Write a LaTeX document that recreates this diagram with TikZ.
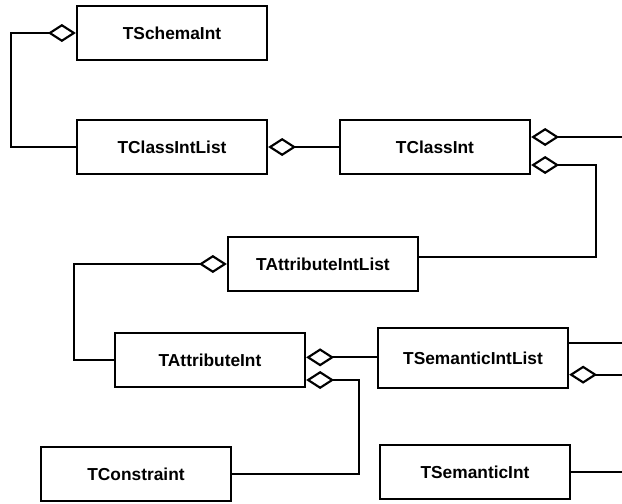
\documentclass[tikz,border=0pt]{standalone}
\usepackage{fontspec}
\setmainfont{Liberation Sans}
\usetikzlibrary{arrows.meta}

\begin{document}
\begin{tikzpicture}[x=0.75pt, y=-0.75pt,
    classbox/.style={draw, line width=1.7pt, minimum width=142.5pt, minimum height=41pt,
      font=\fontsize{13}{15}\selectfont\bfseries},
    link/.style={line width=1.6pt},
    agg/.style={link, -{Diamond[open, length=21pt, width=13.5pt]}},
    aggstart/.style={link, {Diamond[open, length=21pt, width=13.5pt]}-}]
    \useasboundingbox (0,0) rectangle (622,504);
    % classes
    \node[classbox] (schema) at (172,33) {TSchemaInt};
    \node[classbox] (clist) at (172,147) {TClassIntList};
    \node[classbox] (cls) at (435,147) {TClassInt};
    \node[classbox] (alist) at (323,264) {TAttributeIntList};
    \node[classbox] (attr) at (210,360) {TAttributeInt};
    \node[classbox] (cons) at (136,474) {TConstraint};
    \node[classbox, minimum height=45pt] (slist) at (473,358) {TSemanticIntList};
    \node[classbox] (sem) at (475,472) {TSemanticInt};
    % anchor points
    \coordinate (outX) at (622,0);
    \coordinate (clsA) at ([yshift=7.5pt]cls.east);
    \coordinate (clsB) at ([yshift=-13.5pt]cls.east);
    \coordinate (attrA) at ([yshift=2pt]attr.east);
    \coordinate (attrB) at ([yshift=-15pt]attr.east);
    \coordinate (slistA) at ([yshift=11pt]slist.east);
    \coordinate (slistB) at ([yshift=-12.5pt]slist.east);
    % connectors
    \draw[agg] (clist.west) -- ++(-65,0) |- (schema.west);
    \draw[aggstart] (clist.east) -- (cls.west);
    \draw[aggstart] (clsA) -- (clsA -| outX);
    \draw[aggstart] (clsB) -- ++(65,0) |- ([yshift=5pt]alist.east);
    \draw[agg] (attr.west) -- ++(-40,0) |- (alist.west);
    \draw[aggstart] (attrA) -- (attrA -| slist.west);
    \draw[aggstart] (attrB) -- ++(53,0) |- (cons.east);
    \draw[link] (slistA) -- (slistA -| outX);
    \draw[aggstart] (slistB) -- (slistB -| outX);
    \draw[link] (sem.east) -- (sem.east -| outX);
\end{tikzpicture}
\end{document}
